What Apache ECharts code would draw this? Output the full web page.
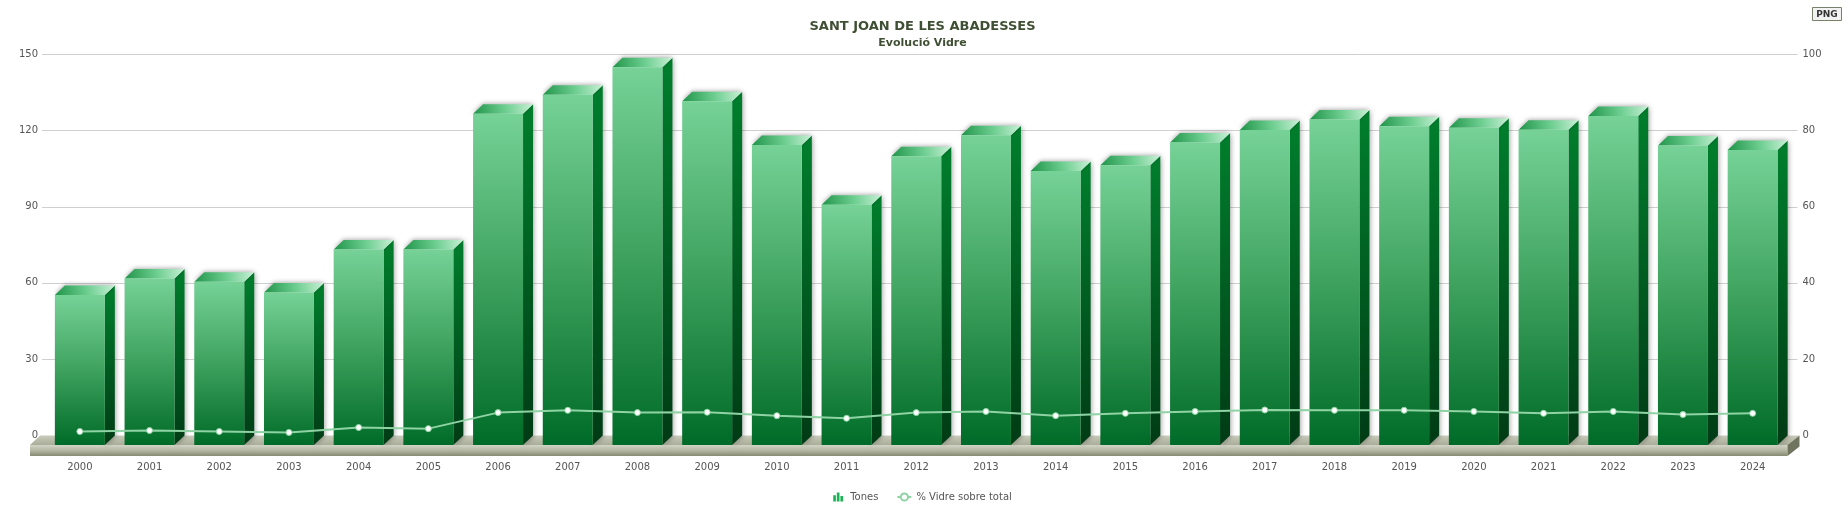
<!DOCTYPE html>
<html>
<head>
<meta charset="utf-8">
<title>Evolució Vidre</title>
<script src="https://cdn.jsdelivr.net/npm/echarts@6/dist/echarts.min.js"></script>
<style>
  html, body { margin: 0; padding: 0; background: #fff; }
  #main { width: 1845px; height: 524px; }
</style>
</head>
<body>
<div id="main"></div>
<script>
// dades llegides del gràfic
var years = ['2000', '2001', '2002', '2003', '2004', '2005', '2006', '2007', '2008', '2009',
             '2010', '2011', '2012', '2013', '2014', '2015', '2016', '2017', '2018', '2019',
             '2020', '2021', '2022', '2023', '2024'];
var tones = [59.0, 65.5, 64.2, 60.0, 76.9, 76.9, 130.2, 137.7, 148.5, 135.2,
             118.0, 94.5, 113.5, 121.8, 107.7, 110.0, 118.9, 123.9, 128.0, 125.3,
             124.7, 124.0, 129.4, 117.8, 116.0];
var pctVidre = [1.05, 1.3, 1.05, 0.8, 2.1, 1.8, 6.0, 6.6, 6.0, 6.1,
                5.2, 4.5, 6.0, 6.3, 5.2, 5.8, 6.3, 6.7, 6.6, 6.6,
                6.3, 5.8, 6.3, 5.5, 5.8];
var leftTicks = [0, 30, 60, 90, 120, 150];
var rightTicks = [0, 20, 40, 60, 80, 100];

var FONT = 'DejaVu Sans';
var DX = 10, DY = 9.5; // profunditat 3D

var barData = [];
for (var i = 0; i < tones.length; i++) {
    barData.push([i, tones[i]]);
}

// barres 3D: cara frontal, superior i lateral
function renderBar(params, api) {
    var idx = api.value(0);
    var top = api.coord([idx, api.value(1)]);
    var base = api.coord([idx, 0]);
    var bw = api.size([1, 0])[0] * 0.717;
    var xl = top[0] - bw / 2, xr = top[0] + bw / 2;
    var yt = top[1] + DY, yb = base[1] + DY;
    return {
        type: 'group',
        children: [
            {
                type: 'polygon',
                shape: { points: [[xr, yt], [xr + DX, yt - DY], [xr + DX, yb - DY], [xr, yb]] },
                style: {
                    fill: new echarts.graphic.LinearGradient(0, 0, 0, 1, [
                        { offset: 0, color: '#007f2d' },
                        { offset: 1, color: '#003b15' }
                    ]),
                    shadowBlur: 5, shadowColor: 'rgba(0,0,0,0.35)', shadowOffsetX: 1
                }
            },
            {
                type: 'polygon',
                shape: { points: [[xl, yt], [xr, yt], [xr + DX, yt - DY], [xl + DX, yt - DY]] },
                style: {
                    fill: new echarts.graphic.LinearGradient(0, 1, 1, 0, [
                        { offset: 0, color: '#1f9448' },
                        { offset: 0.55, color: '#6fcf92' },
                        { offset: 1, color: '#c9f0d6' }
                    ]),
                    shadowBlur: 4, shadowColor: 'rgba(0,0,0,0.3)', shadowOffsetY: -1
                }
            },
            {
                type: 'rect',
                shape: { x: xl, y: yt, width: bw, height: yb - yt },
                style: {
                    fill: new echarts.graphic.LinearGradient(0, 0, 0, 1, [
                        { offset: 0, color: '#76d297' },
                        { offset: 0.5, color: '#3ea25e' },
                        { offset: 1, color: '#006b28' }
                    ])
                }
            }
        ]
    };
}

// terra i línies de la graella
function renderFloor(params, api) {
    var cs = params.coordSys;
    var x0 = cs.x, x1 = cs.x + cs.width;
    var y0 = api.coord([0, 0])[1];
    var children = [];
    for (var k = 1; k < leftTicks.length; k++) {
        var y = Math.round(api.coord([0, leftTicks[k]])[1]) + 0.5;
        children.push({
            type: 'line',
            shape: { x1: x0 - 3, y1: y, x2: x1 + 10, y2: y },
            style: { stroke: '#cfcfcf', lineWidth: 1 }
        });
    }
    var fl = x0 - 15, fr = x1;
    children.push({
        type: 'polygon',
        shape: { points: [[fl, y0 + DY], [fr, y0 + DY], [fr + 12, y0], [fl + 10, y0]] },
        style: {
            fill: new echarts.graphic.LinearGradient(0, 0, 0, 1, [
                { offset: 0, color: '#c9cbbb' },
                { offset: 1, color: '#a9ad98' }
            ])
        }
    });
    children.push({
        type: 'rect',
        shape: { x: fl, y: y0 + DY, width: fr - fl, height: 11 },
        style: {
            fill: new echarts.graphic.LinearGradient(0, 0, 0, 1, [
                { offset: 0, color: '#d3d5c6' },
                { offset: 0.5, color: '#b3b6a2' },
                { offset: 1, color: '#858a72' }
            ])
        }
    });
    children.push({
        type: 'polygon',
        shape: { points: [[fr, y0 + DY], [fr + 12, y0], [fr + 12, y0 + 11], [fr, y0 + DY + 11]] },
        style: { fill: '#6f745e' }
    });
    return { type: 'group', children: children };
}

var option = {
    animation: false,
    backgroundColor: '#fff',
    title: {
        text: 'SANT JOAN DE LES ABADESSES',
        subtext: 'Evolució Vidre',
        left: 'center',
        top: 15,
        itemGap: 5,
        textStyle: { fontFamily: FONT, fontSize: 13, fontWeight: 'bold', color: '#3f4f33' },
        subtextStyle: { fontFamily: FONT, fontSize: 11, fontWeight: 'bold', color: '#3f4f33' }
    },
    legend: {
        left: 'center',
        top: 487,
        itemGap: 18,
        itemWidth: 14,
        itemHeight: 9,
        textStyle: { fontFamily: FONT, fontSize: 10, color: '#555' },
        data: [
            { name: 'Tones', icon: 'path://M0,3h3v7h-3z M4,0h3v10h-3z M8,4h3v6h-3z', itemStyle: { color: '#1db457' } },
            { name: '% Vidre sobre total' }
        ]
    },
    grid: { left: 45, right: 57.5, top: 54, bottom: 88.5 },
    xAxis: {
        type: 'category',
        data: years,
        axisLine: { show: false },
        axisTick: { show: false },
        axisLabel: { fontFamily: FONT, fontSize: 10, color: '#555', margin: 27, interval: 0 }
    },
    yAxis: [
        {
            type: 'value',
            min: 0, max: 150, interval: 30,
            axisLine: { show: false },
            axisTick: { show: false },
            splitLine: { show: false },
            axisLabel: { fontFamily: FONT, fontSize: 10, color: '#555', margin: 7 }
        },
        {
            type: 'value',
            min: 0, max: 100, interval: 20,
            position: 'right',
            axisLine: { show: false },
            axisTick: { show: false },
            splitLine: { show: false },
            axisLabel: { fontFamily: FONT, fontSize: 10, color: '#555', margin: 15 }
        }
    ],
    series: [
        {
            name: 'terra',
            type: 'custom',
            renderItem: renderFloor,
            data: [[0, 0]],
            clip: false,
            silent: true,
            z: 1,
            legendHoverLink: false
        },
        {
            name: 'Tones',
            type: 'custom',
            renderItem: renderBar,
            data: barData,
            encode: { x: 0, y: 1 },
            itemStyle: { color: '#1db457' },
            clip: false,
            z: 2
        },
        {
            name: '% Vidre sobre total',
            type: 'line',
            yAxisIndex: 1,
            data: pctVidre,
            symbol: 'circle',
            symbolSize: 6,
            lineStyle: { color: '#8fd3a4', width: 2 },
            itemStyle: { color: '#ffffff', borderColor: '#8fd3a4', borderWidth: 1 },
            z: 5
        }
    ],
    graphic: [
        {
            type: 'group',
            right: 3,
            top: 7,
            children: [
                { type: 'rect', shape: { x: 0, y: 0, width: 29, height: 13 },
                  style: { fill: '#f2f2f2', stroke: '#76806a', lineWidth: 1 } },
                { type: 'text', x: 14.5, y: 7,
                  style: { text: 'PNG', fontFamily: FONT, fontSize: 9, fontWeight: 'bold', fill: '#333',
                           align: 'center', verticalAlign: 'middle' } }
            ]
        }
    ]
};

var chart = echarts.init(document.getElementById('main'));
chart.setOption(option);
</script>
</body>
</html>
